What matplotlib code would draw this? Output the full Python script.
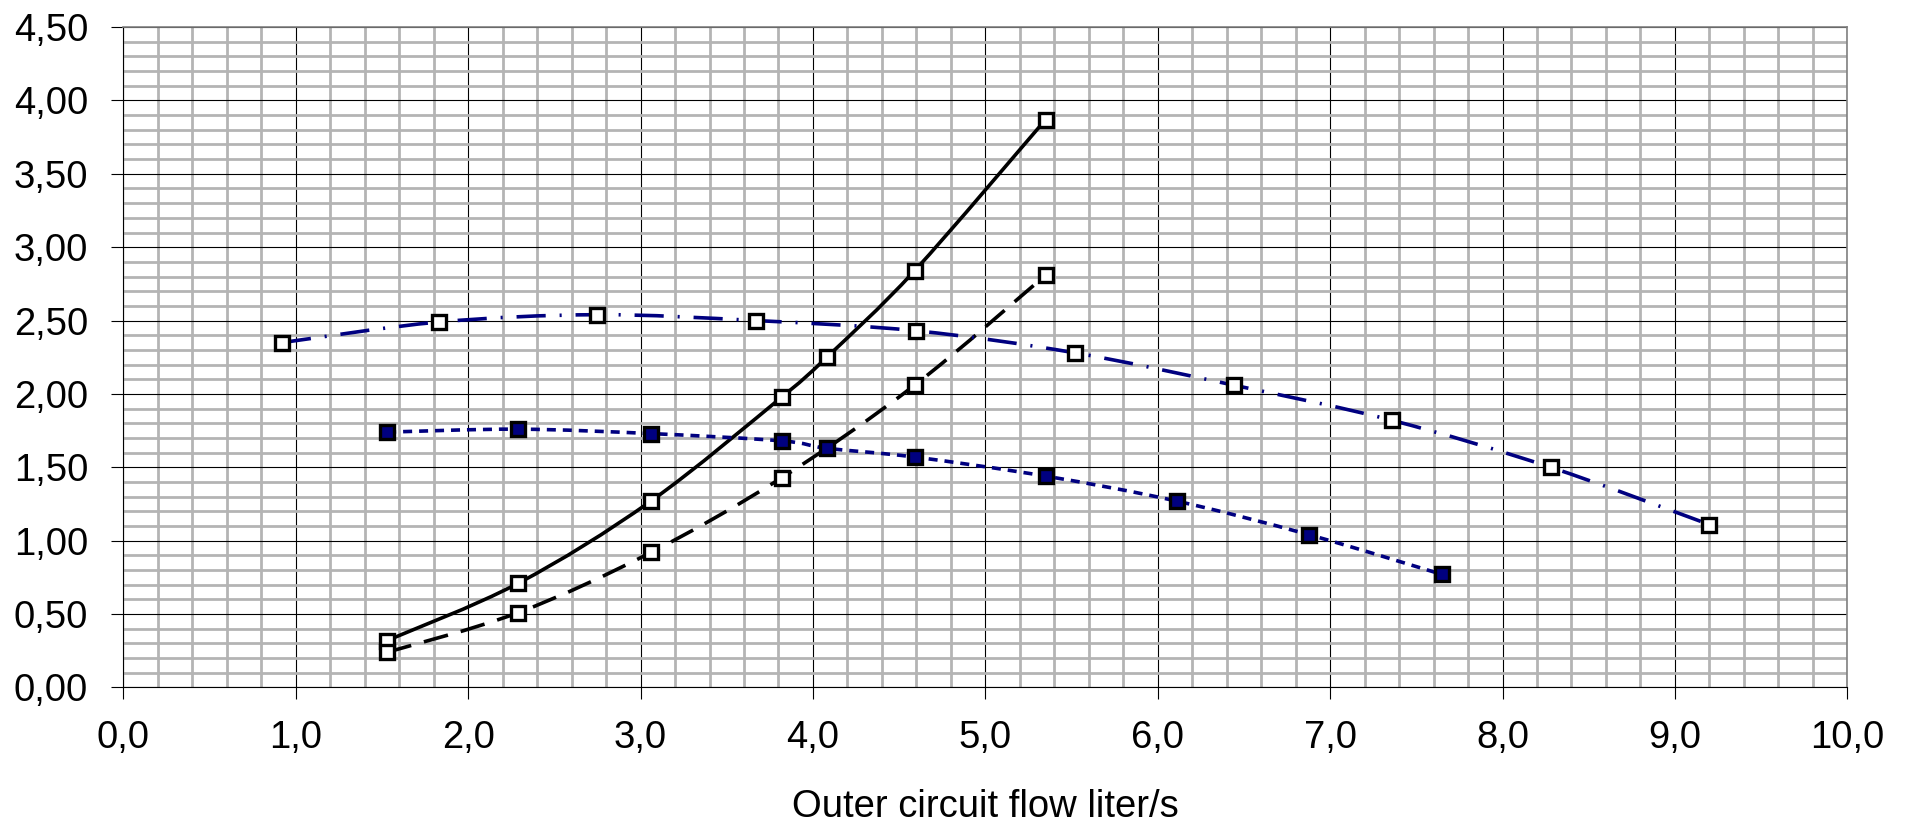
import matplotlib
matplotlib.use("Agg")
import matplotlib.pyplot as plt
from matplotlib.path import Path
from matplotlib.patches import PathPatch
from matplotlib.ticker import MultipleLocator, FixedLocator, FixedFormatter

plt.rcParams["font.family"] = ["Liberation Sans", "DejaVu Sans"]
plt.rcParams["lines.scale_dashes"] = False

# data
flow_a = [1.53, 2.29, 3.06, 3.82, 4.08, 4.59, 5.35]
val_a = [0.32, 0.71, 1.27, 1.98, 2.25, 2.84, 3.87]

flow_b = [1.53, 2.29, 3.06, 3.82, 4.59, 5.35]
val_b = [0.24, 0.51, 0.92, 1.43, 2.06, 2.81]

flow_c = [0.92, 1.83, 2.75, 3.67, 4.60, 5.52, 6.44, 7.36, 8.28, 9.20]
val_c = [2.35, 2.49, 2.54, 2.50, 2.43, 2.28, 2.06, 1.82, 1.50, 1.11]

flow_d = [1.53, 2.29, 3.06, 3.82, 4.08, 4.59, 5.35, 6.11, 6.88, 7.65]
val_d = [1.74, 1.76, 1.73, 1.68, 1.63, 1.57, 1.44, 1.27, 1.04, 0.77]

x_ticks = [0, 1, 2, 3, 4, 5, 6, 7, 8, 9, 10]
x_labels = ["0,0", "1,0", "2,0", "3,0", "4,0", "5,0", "6,0", "7,0", "8,0", "9,0", "10,0"]
y_ticks = [0, 0.5, 1.0, 1.5, 2.0, 2.5, 3.0, 3.5, 4.0, 4.5]
y_labels = ["0,00", "0,50", "1,00", "1,50", "2,00", "2,50", "3,00", "3,50", "4,00", "4,50"]
x_title = "Outer circuit flow liter/s"

NAVY = "#000080"


def smooth_path(xs, ys):
    # excel-like smoothed line: cubic bezier through every point
    pts = list(zip(xs, ys))
    n = len(pts)
    verts = [pts[0]]
    codes = [Path.MOVETO]
    for i in range(n - 1):
        p0 = pts[i - 1] if i > 0 else pts[i]
        p1 = pts[i]
        p2 = pts[i + 1]
        p3 = pts[i + 2] if i + 2 < n else pts[i + 1]
        c1 = (p1[0] + (p2[0] - p0[0]) / 6, p1[1] + (p2[1] - p0[1]) / 6)
        c2 = (p2[0] - (p3[0] - p1[0]) / 6, p2[1] - (p3[1] - p1[1]) / 6)
        verts += [c1, c2, p2]
        codes += [Path.CURVE4] * 3
    return Path(verts, codes)


fig = plt.figure(figsize=(19.07, 8.32), dpi=100)
ax = fig.add_axes([0.0647, 0.1737, 0.904, 0.7938])

ax.set_xlim(0, 10)
ax.set_ylim(0, 4.5)

# grid
ax.xaxis.set_minor_locator(MultipleLocator(0.2))
ax.yaxis.set_minor_locator(MultipleLocator(0.1))
ax.grid(which="minor", color="#b4b4b4", linewidth=2.0, zorder=0)
ax.grid(which="major", color="black", linewidth=0.8, zorder=0.5)
ax.set_axisbelow(True)

lw = 2.6
series = [
    (flow_a, val_a, "black", "-", "white"),
    (flow_b, val_b, "black", (0, (18, 9.5)), "white"),
    (flow_c, val_c, NAVY, (0, (21, 10, 1.5, 10)), "white"),
    (flow_d, val_d, NAVY, (0, (6.5, 5)), NAVY),
]
for xs, ys, col, ls, face in series:
    patch = PathPatch(smooth_path(xs, ys), fill=False, edgecolor=col,
                      linewidth=lw, linestyle=ls, capstyle="butt", zorder=3)
    ax.add_patch(patch)
    ax.plot(xs, ys, linestyle="none", marker="s", markersize=10,
            markerfacecolor=face, markeredgecolor="black",
            markeredgewidth=2.4, zorder=4)

ax.xaxis.set_major_locator(FixedLocator(x_ticks))
ax.xaxis.set_major_formatter(FixedFormatter(x_labels))
ax.yaxis.set_major_locator(FixedLocator(y_ticks))
ax.yaxis.set_major_formatter(FixedFormatter(y_labels))

ax.tick_params(which="major", direction="out", length=8.3, width=0.8,
               color="black", labelsize=27.5)
ax.tick_params(axis="x", which="major", pad=15)
ax.tick_params(axis="y", which="major", pad=17)
ax.tick_params(which="minor", length=0)

for side in ["left", "bottom"]:
    ax.spines[side].set_color("black")
    ax.spines[side].set_linewidth(0.8)
for side in ["top", "right"]:
    ax.spines[side].set_color("#808080")
    ax.spines[side].set_linewidth(1.2)

ax.set_xlabel(x_title, fontsize=27.5, labelpad=24)

fig.savefig("out.png", dpi=100, facecolor="white")
